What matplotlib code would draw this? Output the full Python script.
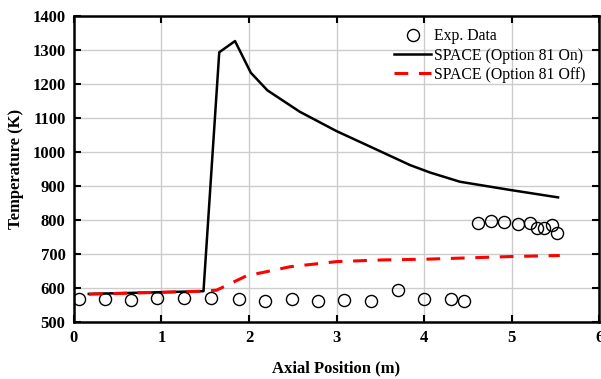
import matplotlib
matplotlib.use('Agg')
from matplotlib import pyplot as plt

plt.rcParams['font.family'] = ['Liberation Serif', 'DejaVu Serif']

# experimental data
expX = [0.06, 0.35, 0.65, 0.95, 1.26, 1.57, 1.88, 2.18, 2.49, 2.79, 3.09, 3.39,
	3.70, 4.00, 4.31, 4.46, 4.61, 4.76, 4.91, 5.07, 5.21, 5.29, 5.37, 5.46, 5.52]
expY = [568, 568, 564, 570, 570, 570, 567, 560, 567, 562, 565, 562,
	593, 567, 567, 562, 792, 797, 794, 787, 791, 777, 776, 785, 762]

# SPACE option 81 on
onX = [0.17, 1.48, 1.66, 1.84, 2.02, 2.21, 2.58, 3.00, 3.53, 3.84, 4.07, 4.41, 4.98, 5.53]
onY = [582, 590, 1293, 1326, 1233, 1181, 1118, 1061, 998, 961, 939, 912, 888, 866]

# SPACE option 81 off
offX = [0.17, 1.48, 1.63, 1.97, 2.47, 3.00, 3.53, 4.00, 4.50, 5.00, 5.55]
offY = [581, 590, 593, 635, 662, 677, 682, 684, 688, 692, 695]

fig = plt.figure(figsize=(6.01, 3.79), dpi=100)
ax = fig.add_axes([0.123, 0.151, 0.874, 0.807])

ax.grid(True, color='#cccccc', linewidth=1.0)
ax.set_axisbelow(True)

ax.plot(expX, expY, linestyle='none', marker='o', markersize=8.7, markerfacecolor='none',
	markeredgecolor='black', markeredgewidth=1.0, label='Exp. Data')
ax.plot(onX, onY, color='black', linewidth=1.8, label='SPACE (Option 81 On)')
ax.plot(offX, offY, color='#ff0000', linewidth=2.2, dashes=(4.5, 3.5), label='SPACE (Option 81 Off)')

ax.set_xlim(0, 6)
ax.set_ylim(500, 1400)
ax.set_xticks(range(0, 7))
ax.set_yticks(range(500, 1401, 100))

for spine in ax.spines.values():
	spine.set_linewidth(1.8)

ax.tick_params(direction='in', top=True, right=True, length=5, width=1.5, labelsize=12, pad=6)
for lbl in ax.get_xticklabels() + ax.get_yticklabels():
	lbl.set_fontweight('bold')

ax.set_xlabel('Axial Position (m)', fontsize=12, fontweight='bold', labelpad=10)
ax.set_ylabel('Temperature (K)', fontsize=12, fontweight='bold', labelpad=6)

ax.legend(loc='upper right', bbox_to_anchor=(0.998, 1.0), frameon=False, fontsize=11.3,
	handlelength=2.35, handletextpad=0.2, labelspacing=0.2, borderpad=0.3)

fig.savefig('out.png', dpi=100)
